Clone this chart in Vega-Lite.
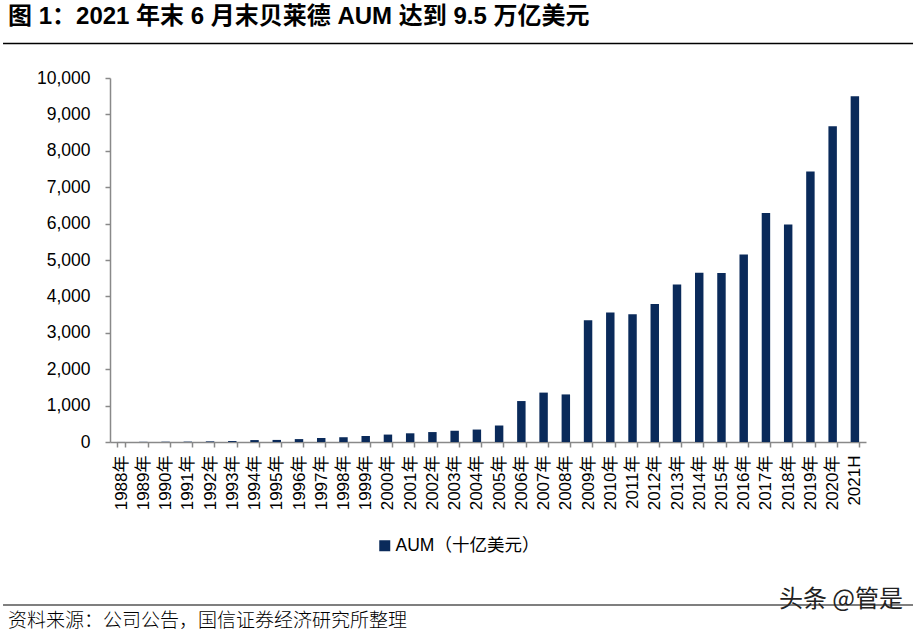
{
  "$schema": "https://vega.github.io/schema/vega-lite/v6.json",
  "width": 756,
  "height": 364,
  "autosize": {"type": "none"},
  "padding": {"left": 110, "top": 78, "right": 50, "bottom": 190},
  "background": "white",
  "config": {
    "view": {"stroke": null},
    "font": "Liberation Sans, Noto Sans CJK SC"
  },
  "data": {
    "values": [
      {"year": "1988年", "aum": 1},
      {"year": "1989年", "aum": 5},
      {"year": "1990年", "aum": 8},
      {"year": "1991年", "aum": 10},
      {"year": "1992年", "aum": 17},
      {"year": "1993年", "aum": 26},
      {"year": "1994年", "aum": 53},
      {"year": "1995年", "aum": 57},
      {"year": "1996年", "aum": 80},
      {"year": "1997年", "aum": 110},
      {"year": "1998年", "aum": 131},
      {"year": "1999年", "aum": 165},
      {"year": "2000年", "aum": 204},
      {"year": "2001年", "aum": 239},
      {"year": "2002年", "aum": 273},
      {"year": "2003年", "aum": 309},
      {"year": "2004年", "aum": 342},
      {"year": "2005年", "aum": 453},
      {"year": "2006年", "aum": 1125},
      {"year": "2007年", "aum": 1357},
      {"year": "2008年", "aum": 1307},
      {"year": "2009年", "aum": 3346},
      {"year": "2010年", "aum": 3561},
      {"year": "2011年", "aum": 3513},
      {"year": "2012年", "aum": 3792},
      {"year": "2013年", "aum": 4324},
      {"year": "2014年", "aum": 4652},
      {"year": "2015年", "aum": 4645},
      {"year": "2016年", "aum": 5148},
      {"year": "2017年", "aum": 6288},
      {"year": "2018年", "aum": 5976},
      {"year": "2019年", "aum": 7430},
      {"year": "2020年", "aum": 8677},
      {"year": "2021H", "aum": 9496}
    ]
  },
  "layer": [
    {
      "mark": {"type": "bar", "color": "#0a2a5a"},
      "encoding": {
        "x": {
          "field": "year",
          "type": "ordinal",
          "sort": null,
          "scale": {"paddingInner": 0.62, "paddingOuter": 0.31},
          "axis": {
            "title": null,
            "labelAngle": -90,
            "labelFont": "Liberation Sans, Noto Sans CJK SC",
            "labelFontSize": 17,
            "labelColor": "#000000",
            "labelPadding": 8,
            "labelOverlap": false,
            "tickSize": 5,
            "tickBand": "extent",
            "tickColor": "#898989",
            "tickWidth": 1.5,
            "domainColor": "#898989",
            "domainWidth": 1.5,
            "grid": false
          }
        },
        "y": {
          "field": "aum",
          "type": "quantitative",
          "scale": {"domain": [0, 10000], "nice": false},
          "axis": {
            "title": null,
            "values": [0, 1000, 2000, 3000, 4000, 5000, 6000, 7000, 8000, 9000, 10000],
            "format": ",d",
            "labelFont": "Liberation Sans",
            "labelFontSize": 17.5,
            "labelColor": "#000000",
            "labelPadding": 15,
            "labelOverlap": false,
            "tickSize": 5,
            "tickColor": "#898989",
            "tickWidth": 1.5,
            "domainColor": "#898989",
            "domainWidth": 1.5,
            "grid": false
          }
        },
        "color": {
          "datum": "AUM（十亿美元）",
          "scale": {"range": ["#0a2a5a"]},
          "legend": {
            "title": null,
            "orient": "none",
            "legendX": 266,
            "legendY": 459,
            "padding": 0,
            "symbolType": "square",
            "symbolSize": 121,
            "symbolStrokeWidth": 0,
            "labelFont": "Liberation Sans, Noto Sans CJK SC",
            "labelFontSize": 17.5,
            "labelColor": "#000000",
            "labelOffset": 2
          }
        }
      }
    },
    {
      "data": {"values": [{"label": "图 1：2021 年末 6 月末贝莱德 AUM 达到 9.5 万亿美元"}]},
      "mark": {"type": "text", "align": "left", "baseline": "middle", "font": "Liberation Sans, Noto Sans CJK SC", "fontSize": 24, "fontWeight": "bold", "color": "#000000"},
      "encoding": {
        "x": {"datum": -0.1349, "type": "quantitative", "scale": {"domain": [0, 1], "nice": false, "zero": false}, "axis": null},
        "y": {"datum": 1.1676, "type": "quantitative", "scale": {"domain": [0, 1], "nice": false, "zero": false}, "axis": null},
        "text": {"field": "label"}
      }
    },
    {
      "data": {"values": [{"line": "top"}]},
      "mark": {"type": "rule", "color": "#000000", "strokeWidth": 1.5},
      "encoding": {
        "x": {"datum": -0.1415, "type": "quantitative", "scale": {"domain": [0, 1], "nice": false, "zero": false}, "axis": null},
        "x2": {"datum": 1.0622},
        "y": {"datum": 1.0948, "type": "quantitative", "scale": {"domain": [0, 1], "nice": false, "zero": false}, "axis": null}
      }
    },
    {
      "data": {"values": [{"line": "bottom"}]},
      "mark": {"type": "rule", "color": "#000000", "strokeWidth": 1.2},
      "encoding": {
        "x": {"datum": -0.1415, "type": "quantitative", "scale": {"domain": [0, 1], "nice": false, "zero": false}, "axis": null},
        "x2": {"datum": 1.0622},
        "y": {"datum": -0.4478, "type": "quantitative", "scale": {"domain": [0, 1], "nice": false, "zero": false}, "axis": null}
      }
    },
    {
      "data": {"values": [{"label": "资料来源：公司公告，国信证券经济研究所整理"}]},
      "mark": {"type": "text", "align": "left", "baseline": "middle", "font": "Noto Sans CJK SC", "fontSize": 19, "fontWeight": 300, "color": "#000000"},
      "encoding": {
        "x": {"datum": -0.1349, "type": "quantitative", "scale": {"domain": [0, 1], "nice": false, "zero": false}, "axis": null},
        "y": {"datum": -0.4918, "type": "quantitative", "scale": {"domain": [0, 1], "nice": false, "zero": false}, "axis": null},
        "text": {"field": "label"}
      }
    },
    {
      "data": {"values": [{"label": "头条 @管是"}]},
      "mark": {"type": "text", "align": "right", "baseline": "middle", "font": "Noto Sans CJK SC", "fontSize": 24, "color": "#222222"},
      "encoding": {
        "x": {"datum": 1.049, "type": "quantitative", "scale": {"domain": [0, 1], "nice": false, "zero": false}, "axis": null},
        "y": {"datum": -0.434, "type": "quantitative", "scale": {"domain": [0, 1], "nice": false, "zero": false}, "axis": null},
        "text": {"field": "label"}
      }
    }
  ],
  "resolve": {"scale": {"x": "independent", "y": "independent"}}
}
